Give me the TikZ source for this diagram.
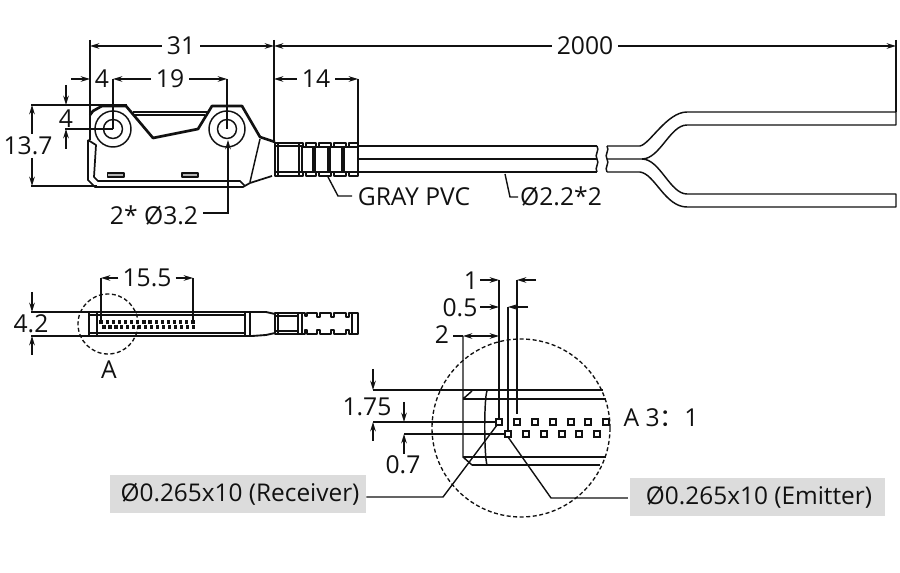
\documentclass[tikz,border=0pt]{standalone}
\usepackage{fontspec}
\setmainfont{Open Sans}
\newfontfamily\cjkfont{Noto Sans CJK SC}
\usetikzlibrary{arrows.meta}
\definecolor{ink}{HTML}{111111}
\definecolor{tag}{HTML}{DCDCDC}
\tikzset{
  dim/.style={draw=ink,line width=1.05pt,-{Stealth[length=7pt,width=4.2pt]}},
  ext/.style={draw=ink,line width=1.05pt},
  part/.style={draw=ink,line width=1.1pt,line join=round},
  heavy/.style={draw=ink,line width=2pt,line join=round},
  lab/.style={font=\fontsize{18.5}{20}\selectfont,text=ink,inner sep=0pt},
  callout/.style={font=\fontsize{18.3}{20}\selectfont,text=ink,inner sep=0pt},
  tagbox/.style={fill=tag,draw=none},
  hole/.style={draw=ink,line width=1.1pt,fill=white},
  pad/.style={draw=ink,line width=1.2pt,fill=white},
  dashring/.style={draw=ink,line width=1pt,dash pattern=on 3pt off 1.9pt},
}
\begin{document}
\begin{tikzpicture}[x=0.75pt,y=-0.75pt]
\useasboundingbox (0,0) rectangle (900,573);
% top dimensions
\draw[ext] (90,40)--(90,140) (274,40)--(274,143) (896,40)--(896,112);
\node[lab] (d31) at (181,46) {31};
\draw[dim] (d31.west)++(-5,0)--(90,46);
\draw[dim] (d31.east)++(5,0)--(274,46);
\node[lab] (d2000) at (585,46) {2000};
\draw[dim] (d2000.west)++(-5,0)--(274,46);
\draw[dim] (d2000.east)++(5,0)--(896,46);
\node[lab] (d4a) at (102,79) {4};
\draw[dim] (71,79)--(90,79);
\node[lab] (d19) at (170,79) {19};
\draw[dim] (d19.west)++(-5,0)--(113,79);
\draw[dim] (d19.east)++(5,0)--(227,79);
\node[lab] (d14) at (316,79) {14};
\draw[dim] (d14.west)++(-5,0)--(274,79);
\draw[dim] (d14.east)++(5,0)--(358,79);
\draw[ext] (358,79)--(358,145);
% left dims
\draw[ext] (31,105)--(127,105) (31,186)--(97,186);
\node[lab] (d137) at (28,146) {13.7};
\draw[dim] (32,134)--(32,105);
\draw[dim] (32,158)--(32,186);
\node[lab] (d4b) at (66,119) {4};
\draw[dim] (66,85)--(66,105);
\draw[dim] (66,149)--(66,129);
% body
\draw[heavy] (90,115)--(93,111)--(102,106)--(126,106)--(153,138)--(198,129)--(212,106)--(242,106)--(260,137)--(275,142);
\draw[part] (133,112)--(208,112) (134,115)--(205,115);
\draw[part] (90,115)--(90,140);
\draw[part,line width=1.3pt] (88,140)--(88,180)--(95,187)--(243,187)--(250,183)--(272,176);
\draw[part,line width=1.3pt] (88,140)--(96,145)--(94,177)--(98,181)--(240,181)--(245,186);
\draw[part] (260,139)--(250,182);
\draw[hole] (113,129) circle (18) (113,129) circle (9.5);
\draw[hole] (227,129) circle (18) (227,129) circle (9.5);
\draw[part,fill=gray!60] (107.500,173) rectangle (124,177) (182,173) rectangle (198,177);
% dims through the holes
\draw[ext] (113,79)--(113,129) (227,79)--(227,129) (65,129)--(113,129);
% grip
\draw[part,line width=1.2pt] (275,143)--(303,143)--(303,147)--(306,147)--(306,143)--(316,143)--(316,147)--(319,147)--(319,143)--(331,143)--(331,147)--(334,147)--(334,143)--(346,143)--(346,147)--(349,147)--(349,143)--(358,143)--(358,176)--(349,176)--(349,172)--(346,172)--(346,176)--(334,176)--(334,172)--(331,172)--(331,176)--(319,176)--(319,172)--(316,172)--(316,176)--(306,176)--(306,172)--(303,172)--(303,176)--(275,176)--cycle;
\draw[part] (275,146)--(303,146) (275,172)--(303,172) (306,147)--(358,147) (306,172)--(358,172) (278,143)--(278,176) (299,143)--(299,176) (302,146)--(302,172) (313,147)--(313,172) (315,147)--(315,172) (328,147)--(328,172) (330,147)--(330,172) (342,147)--(342,172) (344,147)--(344,172);
% cable
\draw[part] (358,146)--(597,146) (358,159)--(597,159) (358,172)--(597,172);
\draw[part] (597,146) .. controls (600,150) and (594,155) .. (597,159) .. controls (600,163) and (594,168) .. (597,172);
\draw[part] (607,146) .. controls (610,150) and (604,155) .. (607,159) .. controls (610,163) and (604,168) .. (607,172);
\draw[part] (607,146)--(640,146) .. controls (650,144) and (667,112) .. (687,112)--(896,112)--(896,125)--(687,125) .. controls (670,125) and (660,159) .. (642,159)--(607,159);
\draw[part] (642,159) .. controls (660,159) and (670,194) .. (687,194)--(896,194)--(896,207)--(687,207) .. controls (665,207) and (655,174) .. (640,172)--(607,172);
% leaders
\node[lab] (gray) at (414,197) {GRAY PVC};
\draw[ext] (328,177)--(338,196)--(352,196);
\node[lab] (dia) at (561,197) {Ø2.2*2};
\draw[ext] (505,174)--(510,197)--(518,197);
\node[lab] (holes) at (154,215) {2* Ø3.2};
\draw[dim] (203,213)--(228,213)--(228,140);
% side view
\draw[ext] (31,312)--(89,312) (31,336)--(89,336);
\node[lab] (d42) at (31,324) {4.2};
\draw[dim] (32,292)--(32,312);
\draw[dim] (32,355)--(32,336);
\draw[part] (89,312)--(245,312)--(245,336)--(89,336)--cycle;
\draw[part] (89,315)--(245,315) (89,333)--(245,333) (97,312)--(97,336);
\draw[part,line width=1.8pt] (250,312)--(250,336);
\draw[part] (245,312)--(252,312) (245,336)--(252,336);
\draw[part,line width=1.4pt] (252,312)--(266,312)--(275,314) (252,336)--(266,335)--(275,333);
\draw[part,line width=1.2pt] (275,313)--(305,313)--(305,316)--(307,316)--(307,313)--(317,313)--(317,317)--(320,317)--(320,313)--(331,313)--(331,317)--(334,317)--(334,313)--(346,313)--(346,317)--(349,317)--(349,313)--(358,313)--(358,334)--(349,334)--(349,330)--(346,330)--(346,334)--(334,334)--(334,330)--(331,330)--(331,334)--(320,334)--(320,330)--(317,330)--(317,334)--(307,334)--(307,330)--(305,330)--(305,334)--(275,334)--cycle;
\draw[part] (275,316)--(298,316) (275,331)--(298,331) (278,313)--(278,334) (298,313)--(298,334) (302,313)--(302,334) (352,313)--(352,334);
\foreach \i in {0,...,15}{
  \fill[ink] ({101+6.13*\i-1.600},320.400) rectangle ++(3.2,3.2);
  \fill[ink] ({104+5.95*\i-1.600},325.400) rectangle ++(3.2,3.2);
}
\draw[ext] (101,278)--(101,322) (193,278)--(193,322);
\node[lab] (d155) at (147,278) {15.5};
\draw[dim] (d155.west)++(-4,0)--(101,278);
\draw[dim] (d155.east)++(4,0)--(193,278);
\node[dashring,circle,minimum size=45pt,inner sep=0pt] (ringa) at (108,324) {};
\node[lab] (a) at (109,370) {A};
% detail
\node[dashring,circle,minimum size=133.5pt,inner sep=0pt] (ringb) at (521,428) {};
\draw[part] (373,390)--(603,390) (463,399)--(606,399) (463,457)--(606,457) (472,465)--(600,465);
\draw[part] (463,336)--(463,457)--(472,465) (463,399)--(472,391);
\draw[part] (487,391) .. controls (484,398) and (484,455) .. (487,465);
\draw[ext] (499,280)--(499,419) (517,280)--(517,414) (508,307)--(508,431);
\foreach \x in {499,517,535,553,571,588,606}{\draw[pad] (\x-3,419) rectangle (\x+3,425);}
\foreach \x in {508,526,544,562,579,597}{\draw[pad] (\x-3,431) rectangle (\x+3,437);}
\node[lab] (d1) at (471,281) {1};
\draw[dim] (480,280)--(499,280);
\draw[dim] (536,280)--(517,280);
\node[lab] (d05) at (460,308) {0.5};
\draw[dim] (480,307)--(499,307);
\draw[dim] (528,307)--(508,307);
\node[lab] (d2) at (442,335) {2};
\draw[ext] (453,336)--(463,336);
\draw[dim] (481,336)--(499,336);
\draw[dim] (481,336)--(463,336);
\node[lab] (d175) at (367,407) {1.75};
\draw[dim] (373,369)--(373,390);
\draw[dim] (373,441)--(373,422);
\draw[ext] (373,422)--(496,422) (404,434)--(505,434);
\node[lab] (d07) at (403,465) {0.7};
\draw[dim] (404,402)--(404,422);
\draw[dim] (404,454)--(404,434);
\node[lab] (scale) at (661,418) {A 3{\cjkfont ：}1};
% callouts
\node[tagbox,minimum width=192pt,minimum height=28.500pt,inner sep=0pt] (rb) at (238,494) {};
\node[callout] (rt) at (240,494) {Ø0.265x10 (Receiver)};
\node[tagbox,minimum width=191pt,minimum height=28.500pt,inner sep=0pt] (eb) at (757.500,497) {};
\node[callout] (et) at (759,497) {Ø0.265x10 (Emitter)};
\draw[ext] (rb.east)++(0,3)--(443,497)--(497,425);
\draw[ext] (eb.west)++(-2,1)--(551,498)--(508,437);
\end{tikzpicture}
\end{document}
